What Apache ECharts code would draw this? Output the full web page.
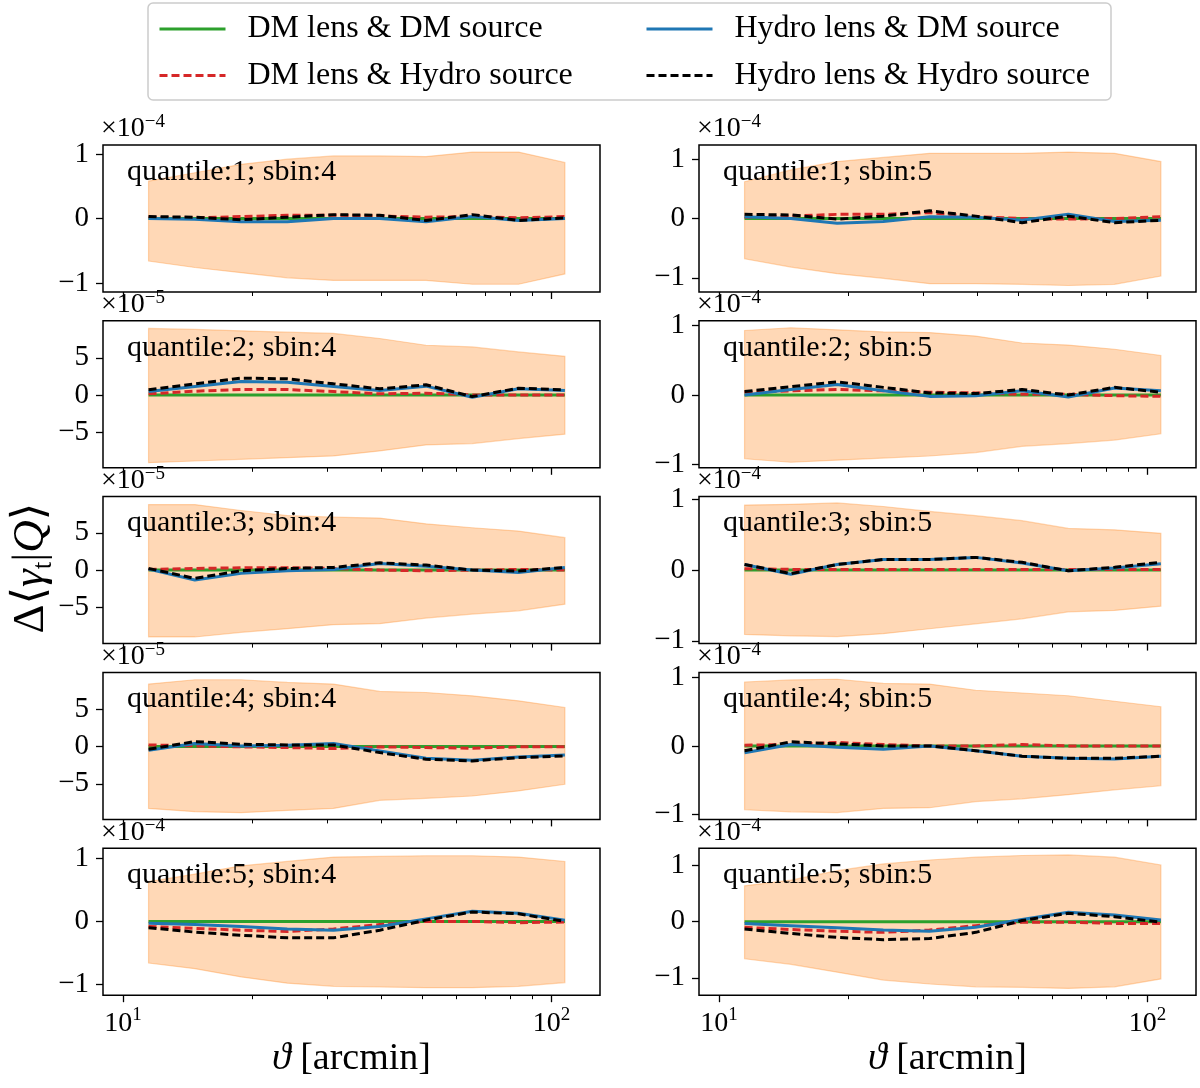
<!DOCTYPE html>
<html>
<head>
<meta charset="utf-8">
<script src="https://cdn.jsdelivr.net/npm/echarts@6/dist/echarts.min.js"></script>
<style>html,body{margin:0;padding:0;background:#fff}#c{width:1200px;height:1088px}</style>
</head>
<body>
<div id="c"></div>
<script>
// ---------------- data ----------------
const theta = [11.47, 14.71, 18.86, 24.17, 30.99, 39.72, 50.93, 65.31, 83.74, 107.4];
const xRange = [8.98, 129.7];
const xMajorTicks = [10, 100];
const xMinorTicks = [20, 30, 40, 50, 60, 70, 80, 90];

// panel order: q1s4, q1s5, q2s4, q2s5, q3s4, q3s5, q4s4, q4s5, q5s4, q5s5
const panelLabels = ['quantile:1; sbin:4', 'quantile:1; sbin:5', 'quantile:2; sbin:4', 'quantile:2; sbin:5',
  'quantile:3; sbin:4', 'quantile:3; sbin:5', 'quantile:4; sbin:4', 'quantile:4; sbin:5',
  'quantile:5; sbin:4', 'quantile:5; sbin:5'];
const exponents = [-4, -4, -5, -4, -5, -4, -5, -4, -4, -4];
const yLimits = [[-1.14, 1.14], [-1.24, 1.24], [-9.84, 10.0], [-1.05, 1.07], [-9.87, 9.87],
  [-1.04, 1.04], [-9.78, 9.96], [-1.07, 1.07], [-1.17, 1.16], [-1.31, 1.31]];
const yTicks = [[-1, 0, 1], [-1, 0, 1], [-5, 0, 5], [-1, 0, 1], [-5, 0, 5],
  [-1, 0, 1], [-5, 0, 5], [-1, 0, 1], [-1, 0, 1], [-1, 0, 1]];

// values in units of 10^exponent
const bandUpper = [
  [0.58, 0.71, 0.84, 0.92, 0.97, 0.97, 0.96, 1.03, 1.03, 0.87],
  [0.62, 0.82, 0.96, 1.03, 1.10, 1.10, 1.10, 1.12, 1.10, 0.96],
  [8.97, 8.83, 8.65, 8.47, 8.29, 7.61, 6.70, 6.48, 5.80, 5.21],
  [0.93, 0.97, 0.94, 0.91, 0.90, 0.85, 0.75, 0.72, 0.66, 0.57],
  [8.80, 8.80, 8.00, 7.33, 7.11, 6.98, 6.22, 5.69, 5.24, 4.36],
  [0.92, 0.93, 0.95, 0.90, 0.83, 0.77, 0.70, 0.59, 0.57, 0.52],
  [8.39, 8.97, 8.97, 8.61, 8.39, 7.40, 7.26, 6.82, 6.14, 5.25],
  [0.93, 0.96, 0.97, 0.91, 0.90, 0.81, 0.77, 0.73, 0.65, 0.57],
  [0.63, 0.75, 0.88, 0.95, 1.02, 1.03, 1.04, 1.04, 1.02, 0.95],
  [0.64, 0.74, 0.91, 1.03, 1.10, 1.15, 1.18, 1.19, 1.15, 1.01]
];
const bandLower = [
  [-0.66, -0.76, -0.84, -0.92, -0.96, -0.96, -0.96, -1.02, -1.02, -0.86],
  [-0.68, -0.82, -0.93, -1.01, -1.10, -1.10, -1.11, -1.13, -1.11, -0.97],
  [-9.15, -8.92, -8.70, -8.47, -8.24, -7.56, -6.75, -6.57, -5.89, -5.30],
  [-0.92, -0.97, -0.94, -0.91, -0.88, -0.83, -0.74, -0.70, -0.65, -0.56],
  [-8.98, -8.98, -8.36, -7.87, -7.33, -7.20, -6.44, -5.91, -5.47, -4.58],
  [-0.91, -0.93, -0.94, -0.90, -0.83, -0.76, -0.69, -0.59, -0.57, -0.51],
  [-8.30, -8.74, -8.88, -8.57, -8.30, -7.22, -6.95, -6.64, -5.96, -5.07],
  [-0.93, -0.96, -0.97, -0.91, -0.90, -0.81, -0.77, -0.71, -0.64, -0.58],
  [-0.66, -0.75, -0.88, -0.98, -1.03, -1.04, -1.05, -1.05, -1.03, -0.97],
  [-0.66, -0.76, -0.90, -1.04, -1.11, -1.16, -1.17, -1.19, -1.16, -1.02]
];
const dmDm = [
  [0, 0, 0, 0, 0, 0, 0, 0, 0, 0], [0, 0, 0, 0, 0, 0, 0, 0, 0, 0],
  [0, 0, 0, 0, 0, 0, 0, 0, 0, 0], [0, 0, 0, 0, 0, 0, 0, 0, 0, 0],
  [0, 0, 0, 0, 0, 0, 0, 0, 0, 0], [0, 0, 0, 0, 0, 0, 0, 0, 0, 0],
  [0, 0, 0, 0, 0, 0, 0, 0, 0, 0], [0, 0, 0, 0, 0, 0, 0, 0, 0, 0],
  [0, 0, 0, 0, 0, 0, 0, 0, 0, 0], [0, 0, 0, 0, 0, 0, 0, 0, 0, 0]
];
const dmHydro = [
  [0.02, 0.01, 0.03, 0.05, 0.05, 0.04, 0.02, 0.03, 0.01, 0.03],
  [0.02, 0.04, 0.07, 0.07, 0.10, 0.03, 0.00, -0.01, 0.00, 0.03],
  [0.14, 0.50, 0.72, 0.72, 0.45, 0.14, 0.23, 0.00, 0.00, 0.00],
  [0.04, 0.06, 0.08, 0.06, 0.04, 0.03, 0.01, 0.01, -0.01, -0.02],
  [0.09, 0.22, 0.31, 0.31, 0.22, 0.00, -0.09, 0.00, 0.09, 0.00],
  [0.02, 0.01, 0.01, 0.01, 0.01, 0.01, 0.01, 0.01, 0.01, 0.01],
  [0.22, 0.09, -0.04, -0.13, -0.27, -0.04, -0.13, -0.22, -0.04, -0.04],
  [0.01, 0.02, 0.05, 0.02, 0.00, 0.00, 0.02, 0.00, 0.00, 0.00],
  [-0.08, -0.11, -0.14, -0.16, -0.12, -0.05, 0.00, 0.00, -0.02, -0.01],
  [-0.10, -0.14, -0.17, -0.19, -0.15, -0.07, -0.01, -0.01, -0.03, -0.03]
];
const hydroDm = [
  [0.00, -0.01, -0.05, -0.05, 0.00, 0.00, -0.05, 0.03, -0.03, 0.00],
  [0.03, 0.00, -0.08, -0.05, 0.03, 0.02, -0.03, 0.07, -0.05, -0.03],
  [0.45, 1.13, 1.81, 1.72, 1.13, 0.59, 1.18, -0.32, 0.82, 0.59],
  [0.00, 0.08, 0.15, 0.06, -0.02, -0.01, 0.06, -0.03, 0.10, 0.06],
  [0.13, -1.33, -0.44, -0.09, 0.09, 0.89, 0.53, 0.00, -0.31, 0.36],
  [0.08, -0.06, 0.08, 0.15, 0.15, 0.18, 0.10, -0.01, 0.03, 0.09],
  [-0.49, 0.40, 0.09, 0.18, 0.40, -0.58, -1.57, -1.84, -1.39, -1.12],
  [-0.10, 0.02, -0.02, -0.05, 0.00, -0.07, -0.15, -0.18, -0.19, -0.15],
  [-0.03, -0.05, -0.08, -0.12, -0.14, -0.08, 0.04, 0.16, 0.13, 0.02],
  [-0.03, -0.07, -0.11, -0.15, -0.17, -0.10, 0.04, 0.17, 0.12, 0.03]
];
const hydroHydro = [
  [0.03, 0.02, -0.02, 0.02, 0.06, 0.05, -0.03, 0.06, -0.03, 0.01],
  [0.07, 0.06, -0.01, 0.04, 0.13, 0.04, -0.07, 0.04, -0.07, -0.03],
  [0.68, 1.49, 2.26, 2.17, 1.49, 0.82, 1.36, -0.23, 0.91, 0.68],
  [0.05, 0.12, 0.19, 0.11, 0.03, 0.02, 0.08, 0.00, 0.11, 0.04],
  [0.22, -1.11, -0.09, 0.22, 0.36, 0.98, 0.67, 0.00, -0.13, 0.36],
  [0.08, -0.05, 0.08, 0.15, 0.15, 0.18, 0.11, -0.01, 0.04, 0.11],
  [-0.36, 0.67, 0.31, 0.22, 0.22, -0.81, -1.70, -1.93, -1.48, -1.26],
  [-0.07, 0.06, 0.03, 0.00, 0.00, -0.07, -0.15, -0.18, -0.18, -0.15],
  [-0.10, -0.17, -0.22, -0.26, -0.26, -0.14, 0.02, 0.15, 0.12, 0.00],
  [-0.13, -0.21, -0.28, -0.32, -0.30, -0.19, 0.02, 0.15, 0.09, -0.01]
];
const seriesNames = ['DM lens & DM source', 'DM lens & Hydro source', 'Hydro lens & DM source', 'Hydro lens & Hydro source'];

// ---------------- styling / layout ----------------
const FONT = "'Liberation Serif', 'DejaVu Serif', serif";
const COLORS = ['#2ca02c', '#d62728', '#1f77b4', '#000000'];
const DASH = [8, 4];
const LW = 3;
const LINE_STYLES = [
  { color: COLORS[0], width: LW, type: 'solid' },
  { color: COLORS[1], width: LW, type: DASH },
  { color: COLORS[2], width: LW, type: 'solid' },
  { color: COLORS[3], width: LW, type: DASH }
];
const COL_LEFT = [103, 699], GRID_W = 497, ROW_TOP = 145, ROW_STEP = 175.8, GRID_H = 147;
const logMin = Math.log10(xRange[0]), logMax = Math.log10(xRange[1]);
const fmtY = v => (v < 0 ? '\u2212' + (-v) : String(v));
const pair = arr => theta.map((t, i) => [t, arr[i]]);

const grids = [], xAxes = [], yAxes = [], series = [], graphics = [];
const lineSets = [dmDm, dmHydro, hydroDm, hydroHydro];

function renderBand(params, api) {
  if (params.dataIndex !== 0) return null;
  const n = params.dataInsideLength;
  const upper = [], lower = [];
  for (let i = 0; i < n; i++) {
    upper.push(api.coord([api.value(0, i), api.value(1, i)]));
    lower.push(api.coord([api.value(0, i), api.value(2, i)]));
  }
  return {
    type: 'polygon',
    shape: { points: upper.concat(lower.reverse()) },
    style: { fill: 'rgba(255,127,14,0.3)', stroke: 'rgba(255,127,14,0.3)', lineWidth: 1.2 }
  };
}

for (let p = 0; p < 10; p++) {
  const row = Math.floor(p / 2), col = p % 2;
  const left = COL_LEFT[col], top = ROW_TOP + row * ROW_STEP;
  grids.push({ left, top, width: GRID_W, height: GRID_H, show: true, borderColor: '#000', borderWidth: 1.5,
    backgroundColor: 'rgba(0,0,0,0)', containLabel: false, outerBoundsMode: 'none' });
  // data axis (log)
  xAxes.push({ gridIndex: p, type: 'log', logBase: 10, min: xRange[0], max: xRange[1], position: 'bottom',
    axisLine: { show: false }, axisTick: { show: false }, axisLabel: { show: false },
    splitLine: { show: false }, minorTick: { show: false }, minorSplitLine: { show: false } });
  // major ticks + labels (same log mapping, in decades)
  xAxes.push({ gridIndex: p, type: 'value', min: logMin, max: logMax, position: 'bottom',
    axisLine: { show: false }, splitLine: { show: false },
    axisTick: { show: true, inside: false, length: 7, customValues: xMajorTicks.map(Math.log10), lineStyle: { color: '#000', width: 1.3 } },
    axisLabel: { show: row === 4, customValues: xMajorTicks.map(Math.log10), margin: 10, color: '#000',
      formatter: v => '{b|10}{s|' + Math.round(v) + '}',
      rich: { b: { fontSize: 28, fontFamily: FONT, color: '#000', lineHeight: 32, verticalAlign: 'bottom' },
              s: { fontSize: 19, fontFamily: FONT, color: '#000', lineHeight: 19, verticalAlign: 'top' } } } });
  // minor ticks
  xAxes.push({ gridIndex: p, type: 'value', min: logMin, max: logMax, position: 'bottom',
    axisLine: { show: false }, splitLine: { show: false }, axisLabel: { show: false },
    axisTick: { show: true, inside: false, length: 4, customValues: xMinorTicks.map(Math.log10), lineStyle: { color: '#000', width: 1 } } });
  yAxes.push({ gridIndex: p, type: 'value', min: yLimits[p][0], max: yLimits[p][1],
    axisLine: { show: false }, splitLine: { show: false },
    axisTick: { show: true, inside: false, length: 7, customValues: yTicks[p], lineStyle: { color: '#000', width: 1.3 } },
    axisLabel: { customValues: yTicks[p], formatter: fmtY, color: '#000', fontSize: 29, fontFamily: FONT, margin: 14 } });

  const xi = 3 * p;
  series.push({ type: 'custom', name: 'band-' + p, xAxisIndex: xi, yAxisIndex: p, silent: true, z: 1,
    data: theta.map((t, i) => [t, bandUpper[p][i], bandLower[p][i]]),
    encode: { x: 0, y: [1, 2] }, renderItem: renderBand });
  lineSets.forEach((set, k) => {
    series.push({ type: 'line', name: seriesNames[k], xAxisIndex: xi, yAxisIndex: p, data: pair(set[p]),
      symbol: 'none', silent: true, lineStyle: LINE_STYLES[k], itemStyle: { color: COLORS[k] }, z: 3 + k });
  });

  graphics.push({ type: 'text', x: left + 24, y: top + 27, z: 10,
    style: { text: panelLabels[p], fontSize: 30, fontFamily: FONT, fill: '#000', align: 'left', verticalAlign: 'middle' } });
  graphics.push({ type: 'text', x: left - 2, y: top - 2, z: 10,
    style: { text: '{a|\u00d710}{b|\u2212' + (-exponents[p]) + '}', align: 'left', verticalAlign: 'bottom',
      rich: { a: { fontSize: 28, fontFamily: FONT, fill: '#000', lineHeight: 30, verticalAlign: 'bottom' },
              b: { fontSize: 19, fontFamily: FONT, fill: '#000', lineHeight: 19, verticalAlign: 'top' } } } });
}

// axis titles
[0, 1].forEach(c => {
  graphics.push({ type: 'text', x: COL_LEFT[c] + GRID_W / 2, y: 1059, z: 10,
    style: { text: '{i|\u03d1}{a| [arcmin]}', align: 'center', verticalAlign: 'middle',
      rich: { i: { fontSize: 38, fontFamily: FONT, fontStyle: 'italic', fill: '#000' },
              a: { fontSize: 38, fontFamily: FONT, fill: '#000' } } } });
});
graphics.push({ type: 'text', x: 31, y: 568, rotation: Math.PI / 2, z: 10,
  style: { text: '{a|\u0394\u27e8}{g|\u03b3}{t|t}{a||}{g|Q}{a|\u27e9}', align: 'center', verticalAlign: 'middle',
    rich: { a: { fontSize: 45, fontFamily: FONT, fill: '#000', lineHeight: 52, verticalAlign: 'middle' },
            g: { fontSize: 45, fontFamily: FONT, fontStyle: 'italic', fill: '#000', lineHeight: 52, verticalAlign: 'middle' },
            t: { fontSize: 27, fontFamily: FONT, fill: '#000', lineHeight: 29, verticalAlign: 'bottom' } } } });
// legend frame
graphics.push({ type: 'rect', z: 0, shape: { x: 148, y: 3, width: 963, height: 97, r: 5 },
  style: { fill: '#fff', stroke: '#cccccc', lineWidth: 1.5 } });

const legendItem = k => ({ name: seriesNames[k], lineStyle: { color: COLORS[k], width: LW, type: LINE_STYLES[k].type } });
const legendCommon = { orient: 'vertical', top: 8, itemWidth: 66, itemHeight: 30, itemGap: 14.4, selectedMode: false,
  z: 20, textStyle: { fontSize: 32, fontFamily: FONT, color: '#000', lineHeight: 30, padding: [0, 0, 0, 17] },
  itemStyle: { opacity: 0, color: 'rgba(0,0,0,0)', borderWidth: 0 } };

const option = {
  animation: false,
  backgroundColor: '#fff',
  grid: grids,
  xAxis: xAxes,
  yAxis: yAxes,
  legend: [
    Object.assign({}, legendCommon, { left: 153, data: [legendItem(0), legendItem(1)] }),
    Object.assign({}, legendCommon, { left: 640, data: [legendItem(2), legendItem(3)] })
  ],
  graphic: graphics,
  series
};
const chart = echarts.init(document.getElementById('c'));
chart.setOption(option);
</script>
</body>
</html>
